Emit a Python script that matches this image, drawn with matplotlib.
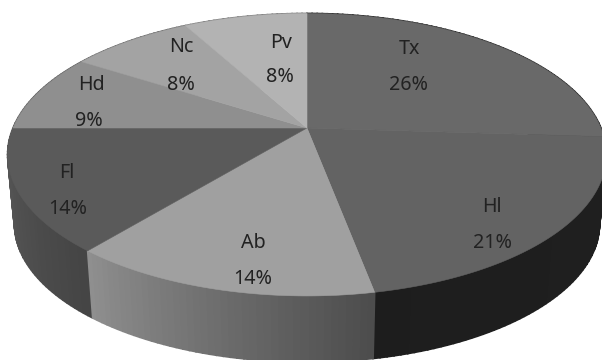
import numpy as np
import matplotlib
matplotlib.use('Agg')
import matplotlib.pyplot as plt

names = ['Tx', 'Hl', 'Ab', 'Fl', 'Hd', 'Nc', 'Pv']
shares = [26, 21, 14, 14, 9, 8, 8]

top_colors = ['#696969', '#636363', '#a0a0a0', '#5a5a5a', '#8f8f8f', '#a3a3a3', '#b3b3b3']
wall_start = [0.12, 0.125, 0.30, 0.27, 0.35, 0.40, 0.45]
wall_end = [0.12, 0.115, 0.56, 0.36, 0.35, 0.40, 0.45]

# label centres in pixels, name then percent
name_xy = [(409, 49.5), (492, 207.5), (253, 242.5), (67, 172.5), (91, 84.5), (181, 47.5), (281, 42.5)]
pct_xy = [(409, 84.5), (492, 243.5), (253, 278.5), (68, 208.5), (89, 121.5), (181, 84.5), (280, 77.5)]

APEX_X, APEX_Y = 307, 128
A, B, K = 294, 136.2, 0.189
DEPTH, SHRINK = 70, 0.977


def project(theta, bottom=False):
    # theta clockwise from 12 o'clock, perspective squashed circle
    u, v = np.sin(theta), -np.cos(theta)
    w = 1 - K * v
    x, y = A * u / w, B * v / w
    if bottom:
        return APEX_X + SHRINK * x, APEX_Y + DEPTH + SHRINK * y
    return APEX_X + x, APEX_Y + y


fig = plt.figure(figsize=(6.02, 3.6), dpi=100)
ax = fig.add_axes([0, 0, 1, 1])
ax.set_xlim(0, 602)
ax.set_ylim(360, 0)
ax.axis('off')

edges = np.radians(np.cumsum([0] + shares) * 3.6)

# side wall, back to front
quads = []
for i in range(len(shares)):
    t = np.linspace(edges[i], edges[i + 1], shares[i] * 3 + 2)
    for j in range(len(t) - 1):
        frac = j / (len(t) - 2)
        g = wall_start[i] + (wall_end[i] - wall_start[i]) * frac
        quads.append((-np.cos((t[j] + t[j + 1]) / 2), t[j], t[j + 1], str(g)))
for _, t0, t1, g in sorted(quads, key=lambda q: q[0]):
    x0, y0 = project(t0)
    x1, y1 = project(t1)
    x2, y2 = project(t1, bottom=True)
    x3, y3 = project(t0, bottom=True)
    ax.fill([x0, x1, x2, x3], [y0, y1, y2, y3], color=g, lw=1.2)

# top face
for i in range(len(shares)):
    t = np.linspace(edges[i], edges[i + 1], 80)
    xs, ys = project(t)
    ax.fill(np.r_[APEX_X, xs], np.r_[APEX_Y, ys], color=top_colors[i], lw=0.4)

for i, name in enumerate(names):
    ax.text(*name_xy[i], name, ha='center', va='center', fontsize=14.2,
            family='Noto Sans', color='#222222')
    ax.text(*pct_xy[i], f'{shares[i]}%', ha='center', va='center', fontsize=14.2,
            family='Noto Sans', color='#222222')

fig.savefig('out.png', dpi=100)
